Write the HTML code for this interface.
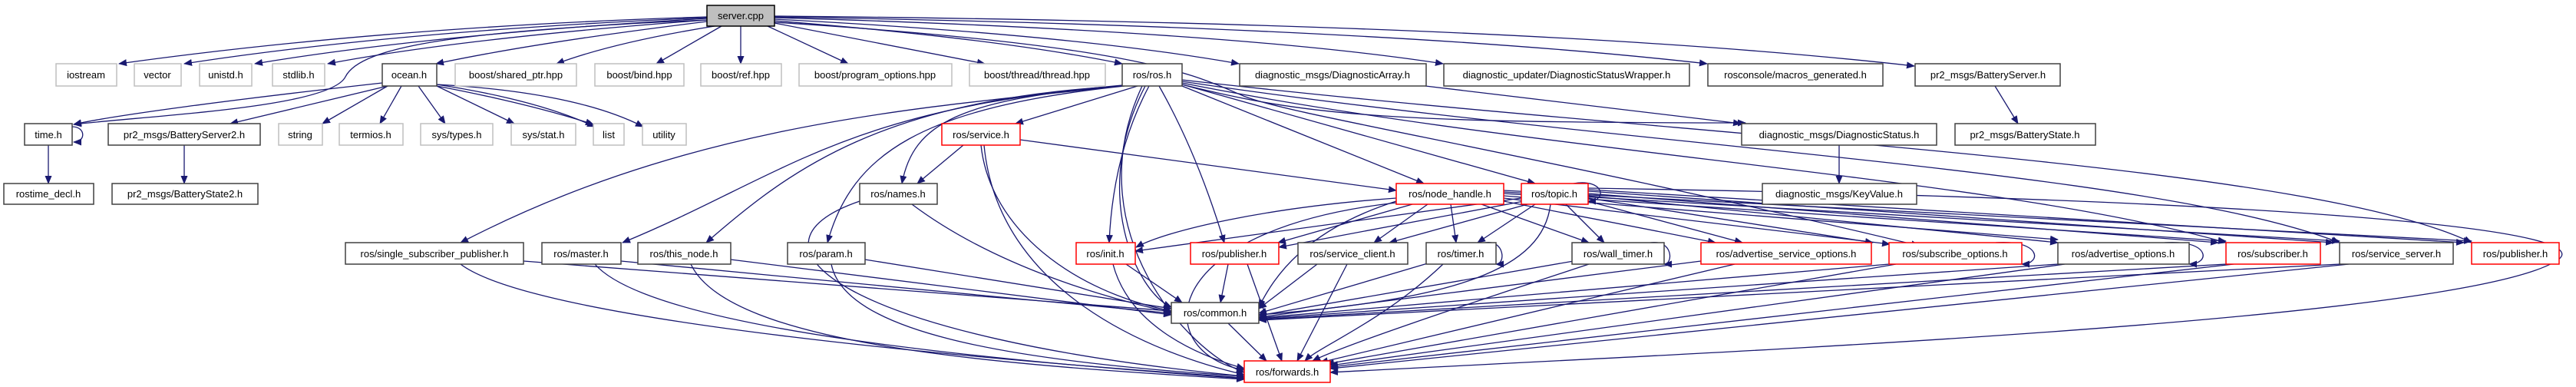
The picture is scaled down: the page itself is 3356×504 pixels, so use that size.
<!DOCTYPE html>
<html><head><meta charset="utf-8"><style>
html,body{margin:0;padding:0;background:#fff;}
svg{display:block;}
text{font-family:"Liberation Sans",sans-serif;font-size:13px;fill:#000;text-anchor:middle;}
.e{fill:none;stroke:#191970;stroke-width:1.3;marker-end:url(#a);}
.b{fill:#fff;stroke:#404040;stroke-width:1.5;}
.g{fill:#fff;stroke:#bfbfbf;stroke-width:1.5;}
.r{fill:#fff;stroke:#ff0000;stroke-width:1.5;}
</style></head><body>
<svg width="3356" height="504" viewBox="0 0 3356 504" xmlns="http://www.w3.org/2000/svg">
<defs><marker id="a" markerWidth="11" markerHeight="9" refX="10" refY="4.5" orient="auto" markerUnits="userSpaceOnUse"><path d="M0,0 L11,4.5 L0,9 z" fill="#191970"/></marker></defs>
<g>
<!-- server edges -->
<path class="e" d="M921,22 Q500,35 155,83"/>
<path class="e" d="M921,23 Q520,40 240,83"/>
<path class="e" d="M921,24 Q560,45 332,83"/>
<path class="e" d="M921,26 Q600,50 427,83"/>
<path class="e" d="M921,28 Q700,55 568,83"/>
<path class="e" d="M931,34 Q800,55 725,83"/>
<path class="e" d="M940,34 L855,83"/>
<path class="e" d="M965,34 L965,83"/>
<path class="e" d="M1000,34 L1105,83"/>
<path class="e" d="M1009,30 L1283,83"/>
<path class="e" d="M1009,27 Q1300,50 1462,83"/>
<path class="e" d="M1009,25 Q1400,45 1614,83"/>
<path class="e" d="M1009,23 Q1600,40 1880,83"/>
<path class="e" d="M1009,22 Q1800,35 2224,83"/>
<path class="e" d="M1009,21 Q2000,30 2494,86"/>
<path class="e" d="M921,26 C600,40 470,60 450,100 S200,150 96,162"/>
<path class="e" d="M1009,29 C1500,60 1560,100 1620,125 S2000,200 2500,320"/>
<!-- ocean -->
<path class="e" d="M498,108 C300,130 150,150 96,162"/>
<path class="e" d="M505,112 L300,161"/>
<path class="e" d="M505,112 L420,161"/>
<path class="e" d="M523,112 L495,161"/>
<path class="e" d="M545,112 L580,161"/>
<path class="e" d="M569,112 L670,161"/>
<path class="e" d="M569,110 Q700,130 775,165"/>
<path class="e" d="M569,112 Q690,135 773,162"/>
<path class="e" d="M569,110 Q750,120 838,165"/>
<path class="e" d="M94,165 C112,165 112,185 96,185"/>
<path class="e" d="M63,189 L63,239"/>
<path class="e" d="M240,189 L240,239"/>
<path class="e" d="M2599,112 L2629,161"/>
<path class="e" d="M2396,189 L2396,239"/>
<path class="e" d="M1857,112 L2268,161"/>
<!-- ros.h -->
<path class="e" d="M1482,112 L1323,161"/>
<path class="e" d="M1462,111 C1250,130 1190,160 1175,239"/>
<path class="e" d="M1462,112 C1200,140 900,160 600,316"/>
<path class="e" d="M1462,112 C1100,140 1020,230 811,316"/>
<path class="e" d="M1462,112 C1150,130 1030,220 920,316"/>
<path class="e" d="M1465,112 C1200,140 1110,200 1078,316"/>
<path class="e" d="M1497,112 Q1450,200 1445,316"/>
<path class="e" d="M1510,112 Q1560,200 1595,316"/>
<path class="e" d="M1540,112 L1855,239"/>
<path class="e" d="M1540,110 L2000,239"/>
<path class="e" d="M1540,110 C1700,150 1800,160 2274,160"/>
<path class="e" d="M1492,112 C1420,250 1480,380 1526,400"/>
<path class="e" d="M1488,112 C1400,300 1550,460 1621,485"/>
<path class="e" d="M1540,108 C2000,200 2600,230 2900,316"/>
<path class="e" d="M1540,106 C2100,190 2800,220 3048,316"/>
<path class="e" d="M1540,104 C2200,180 3000,210 3220,316"/>
<!-- service.h -->
<path class="e" d="M1255,189 L1195,239"/>
<path class="e" d="M1329,182 L1819,248"/>
<path class="e" d="M1278,189 C1290,300 1400,380 1526,405"/>
<path class="e" d="M1282,189 C1300,380 1500,460 1621,488"/>
<!-- names -->
<path class="e" d="M1188,266 C1300,350 1450,390 1526,407"/>
<path class="e" d="M1120,262 C950,320 1100,440 1621,490"/>
<!-- node_handle -->
<path class="e" d="M1819,258 C1650,270 1520,300 1480,322"/>
<path class="e" d="M1840,266 L1665,316"/>
<path class="e" d="M1860,266 L1790,316"/>
<path class="e" d="M1890,266 L1897,316"/>
<path class="e" d="M1930,266 L2070,316"/>
<path class="e" d="M1959,262 L2235,316"/>
<path class="e" d="M1959,258 L2462,318"/>
<path class="e" d="M1959,255 L2681,312"/>
<path class="e" d="M1959,252 L2900,314"/>
<path class="e" d="M1959,250 L3048,314"/>
<path class="e" d="M1959,248 L3220,314"/>
<path class="e" d="M1819,262 C1700,300 1660,360 1640,400"/>
<path class="e" d="M1819,264 C1500,300 1500,460 1621,482"/>
<!-- topic -->
<path class="e" d="M2050,239 C2090,232 2095,262 2069,262"/>
<path class="e" d="M1982,258 L1479,327"/>
<path class="e" d="M1985,262 L1666,322"/>
<path class="e" d="M1990,266 L1810,316"/>
<path class="e" d="M2000,266 L1925,316"/>
<path class="e" d="M2040,266 L2090,316"/>
<path class="e" d="M2069,262 L2270,316"/>
<path class="e" d="M2069,258 L2440,316"/>
<path class="e" d="M2069,255 L2681,316"/>
<path class="e" d="M2069,252 L2890,316"/>
<path class="e" d="M2069,249 L3040,316"/>
<path class="e" d="M2069,247 L3210,316"/>
<path class="e" d="M2069,245 C3000,260 3400,300 3330,340 C3200,420 2200,460 1733,485"/>
<path class="e" d="M2020,266 C2010,350 1900,390 1640,410"/>
<!-- row5 -> common/forwards -->
<path class="e" d="M682,340 L1526,405"/>
<path class="e" d="M600,344 C700,420 1300,470 1621,492"/>
<path class="e" d="M809,340 L1526,408"/>
<path class="e" d="M775,344 C850,430 1300,470 1621,493"/>
<path class="e" d="M952,338 L1526,410"/>
<path class="e" d="M900,344 C950,450 1300,475 1621,494"/>
<path class="e" d="M1127,338 L1526,402"/>
<path class="e" d="M1083,344 C1100,430 1300,470 1621,490"/>
<path class="e" d="M1467,344 L1540,394"/>
<path class="e" d="M1450,344 C1470,420 1550,460 1621,480"/>
<path class="e" d="M1600,344 L1590,394"/>
<path class="e" d="M1625,344 L1670,470"/>
<path class="e" d="M1716,344 L1640,402"/>
<path class="e" d="M1755,344 L1690,470"/>
<path class="e" d="M1870,340 L1640,408"/>
<path class="e" d="M1880,344 C1800,420 1720,450 1700,470"/>
<path class="e" d="M2050,340 L1640,411"/>
<path class="e" d="M2070,344 C1900,400 1750,450 1710,470"/>
<path class="e" d="M2216,340 L1640,413"/>
<path class="e" d="M2260,344 L1720,472"/>
<path class="e" d="M2461,344 L1640,414"/>
<path class="e" d="M2470,344 L1728,474"/>
<path class="e" d="M2681,344 L1640,415"/>
<path class="e" d="M2690,344 L1733,476"/>
<path class="e" d="M2900,344 L1640,416"/>
<path class="e" d="M2910,344 L1733,478"/>
<path class="e" d="M3048,344 L1640,417"/>
<path class="e" d="M3060,344 L1733,480"/>
<path class="e" d="M1600,421 L1650,470"/>
<!-- self loops -->
<path class="e" d="M1935,316 C1960,312 1962,344 1949,344"/>
<path class="e" d="M2150,316 C2180,312 2180,344 2168,344"/>
<path class="e" d="M2600,316 C2660,312 2660,344 2634,344"/>
<path class="e" d="M2820,316 C2880,312 2880,344 2852,344"/>
</g>
<!-- nodes -->
<rect x="921" y="7" width="88" height="27" fill="#bfbfbf" stroke="#000" stroke-width="1.5"/><text x="965" y="25">server.cpp</text>

<rect class="g" x="73" y="83" width="79" height="29"/><text x="112" y="102">iostream</text>
<rect class="g" x="175" y="83" width="61" height="29"/><text x="205" y="102">vector</text>
<rect class="g" x="260" y="83" width="68" height="29"/><text x="294" y="102">unistd.h</text>
<rect class="g" x="355" y="83" width="68" height="29"/><text x="389" y="102">stdlib.h</text>
<rect class="b" x="498" y="83" width="71" height="29"/><text x="533" y="102">ocean.h</text>
<rect class="g" x="593" y="83" width="158" height="29"/><text x="672" y="102">boost/shared_ptr.hpp</text>
<rect class="g" x="775" y="83" width="116" height="29"/><text x="833" y="102">boost/bind.hpp</text>
<rect class="g" x="913" y="83" width="105" height="29"/><text x="965" y="102">boost/ref.hpp</text>
<rect class="g" x="1041" y="83" width="199" height="29"/><text x="1140" y="102">boost/program_options.hpp</text>
<rect class="g" x="1263" y="83" width="177" height="29"/><text x="1351" y="102">boost/thread/thread.hpp</text>
<rect class="b" x="1462" y="83" width="78" height="29"/><text x="1501" y="102">ros/ros.h</text>
<rect class="b" x="1615" y="83" width="243" height="29"/><text x="1736" y="102">diagnostic_msgs/DiagnosticArray.h</text>
<rect class="b" x="1881" y="83" width="320" height="29"/><text x="2041" y="102">diagnostic_updater/DiagnosticStatusWrapper.h</text>
<rect class="b" x="2225" y="83" width="228" height="29"/><text x="2339" y="102">rosconsole/macros_generated.h</text>
<rect class="b" x="2495" y="83" width="189" height="29"/><text x="2590" y="102">pr2_msgs/BatteryServer.h</text>

<rect class="b" x="32" y="161" width="62" height="28"/><text x="63" y="180">time.h</text>
<rect class="b" x="141" y="161" width="198" height="28"/><text x="240" y="180">pr2_msgs/BatteryServer2.h</text>
<rect class="g" x="363" y="161" width="57" height="28"/><text x="391" y="180">string</text>
<rect class="g" x="442" y="161" width="83" height="28"/><text x="483" y="180">termios.h</text>
<rect class="g" x="548" y="161" width="94" height="28"/><text x="595" y="180">sys/types.h</text>
<rect class="g" x="666" y="161" width="84" height="28"/><text x="708" y="180">sys/stat.h</text>
<rect class="g" x="773" y="161" width="40" height="28"/><text x="793" y="180">list</text>
<rect class="g" x="837" y="161" width="57" height="28"/><text x="865" y="180">utility</text>
<rect class="r" x="1227" y="161" width="102" height="28"/><text x="1278" y="180">ros/service.h</text>
<rect class="b" x="2269" y="161" width="254" height="28"/><text x="2396" y="180">diagnostic_msgs/DiagnosticStatus.h</text>
<rect class="b" x="2547" y="161" width="183" height="28"/><text x="2638" y="180">pr2_msgs/BatteryState.h</text>

<rect class="b" x="5" y="239" width="117" height="27"/><text x="63" y="257">rostime_decl.h</text>
<rect class="b" x="146" y="239" width="190" height="27"/><text x="241" y="257">pr2_msgs/BatteryState2.h</text>
<rect class="b" x="1120" y="239" width="101" height="27"/><text x="1170" y="257">ros/names.h</text>
<rect class="r" x="1819" y="239" width="140" height="27"/><text x="1889" y="257">ros/node_handle.h</text>
<rect class="r" x="1982" y="239" width="87" height="27"/><text x="2025" y="257">ros/topic.h</text>
<rect class="b" x="2296" y="239" width="201" height="27"/><text x="2396" y="257">diagnostic_msgs/KeyValue.h</text>

<rect class="b" x="450" y="316" width="232" height="28"/><text x="566" y="335">ros/single_subscriber_publisher.h</text>
<rect class="b" x="706" y="316" width="103" height="28"/><text x="757" y="335">ros/master.h</text>
<rect class="b" x="831" y="316" width="121" height="28"/><text x="891" y="335">ros/this_node.h</text>
<rect class="b" x="1026" y="316" width="101" height="28"/><text x="1076" y="335">ros/param.h</text>
<rect class="r" x="1402" y="316" width="77" height="28"/><text x="1440" y="335">ros/init.h</text>
<rect class="r" x="1551" y="316" width="115" height="28"/><text x="1608" y="335">ros/publisher.h</text>
<rect class="b" x="1691" y="316" width="143" height="28"/><text x="1762" y="335">ros/service_client.h</text>
<rect class="b" x="1858" y="316" width="91" height="28"/><text x="1903" y="335">ros/timer.h</text>
<rect class="b" x="2048" y="316" width="120" height="28"/><text x="2108" y="335">ros/wall_timer.h</text>
<rect class="r" x="2216" y="316" width="222" height="28"/><text x="2327" y="335">ros/advertise_service_options.h</text>
<rect class="r" x="2461" y="316" width="173" height="28"/><text x="2547" y="335">ros/subscribe_options.h</text>
<rect class="b" x="2681" y="316" width="171" height="28"/><text x="2766" y="335">ros/advertise_options.h</text>
<rect class="r" x="2900" y="316" width="123" height="28"/><text x="2961" y="335">ros/subscriber.h</text>
<rect class="b" x="3048" y="316" width="148" height="28"/><text x="3122" y="335">ros/service_server.h</text>
<rect class="r" x="3220" y="316" width="114" height="28"/><text x="3277" y="335">ros/publisher.h</text>

<rect class="b" x="1526" y="394" width="114" height="27"/><text x="1583" y="412">ros/common.h</text>
<rect class="r" x="1621" y="470" width="112" height="28"/><text x="1677" y="489">ros/forwards.h</text>
</svg>
</body></html>
